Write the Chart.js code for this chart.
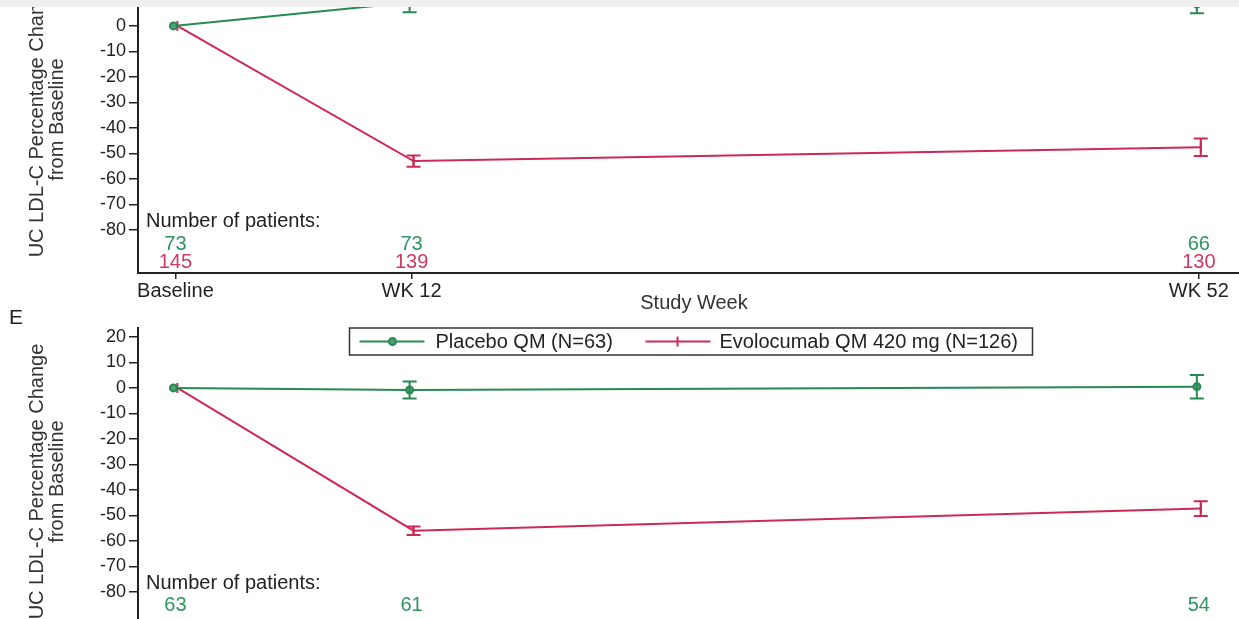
<!DOCTYPE html>
<html lang="en">
<head>
<meta charset="UTF-8">
<title>UC LDL-C Percentage Change from Baseline</title>
<script src="https://cdn.jsdelivr.net/npm/chart.js"></script>
<style>
  html, body { margin: 0; padding: 0; background: #fff; }
  body {
    width: 1239px;
    height: 619px;
    overflow: hidden;
    position: relative;
    font-family: 'Liberation Sans', Arial, sans-serif;
  }
  .strip {
    position: absolute; left: 0; top: 0;
    width: 1239px; height: 7px;
    background: #efefef;
    z-index: 5;
  }
  canvas { position: absolute; left: 0; }
  #chartD { top: -60px; }
  #chartE { top: 300px; }
  .panel-tag {
    position: absolute; left: 9px; top: 305px;
    font-size: 21px; color: #222;
  }
</style>
</head>
<body>
<div class="strip"></div>
<canvas id="chartD" width="1260" height="375"></canvas>
<div class="panel-tag">E</div>
<canvas id="chartE" width="1260" height="377"></canvas>

<script>
// study weeks and their tick labels
const weeks = [0, 12, 52];
const weekLabels = ['Baseline', 'WK 12', 'WK 52'];
const yTicks = [20, 10, 0, -10, -20, -30, -40, -50, -60, -70, -80];

// upper panel (cut off at the top)
const placeboD = [0, 9.2, 8.6];
const placeboErrD = [0, 3.8, 3.6];
const evoD = [0, -53.0, -47.6];
const evoErrD = [0, 2.2, 3.4];
const nPlaceboD = [73, 73, 66];
const nEvoD = [145, 139, 130];

// panel E
const placeboE = [0, -0.8, 0.5];
const placeboErrE = [0, 3.3, 4.6];
const evoE = [0, -56.0, -47.3];
const evoErrE = [0, 1.7, 2.9];
const nPlaceboE = [63, 61, 54];

const legendLabels = ['Placebo QM (N=63)', 'Evolocumab QM 420 mg (N=126)'];

const GREEN = '#278a52';
const RED = '#cc2a55';
const AXIS = '#222';
const FONT = "'Liberation Sans', Arial, sans-serif";

function toPoints(vals, dodge) {
  return vals.map((v, i) => ({ x: weeks[i] + dodge, y: v }));
}

// draws mean +/- error whiskers using the chart scales
const errorBars = {
  id: 'errorBars',
  afterDatasetsDraw(chart) {
    const ctx = chart.ctx;
    const xs = chart.scales.x, ys = chart.scales.y;
    const area = chart.chartArea;
    ctx.save();
    ctx.beginPath();
    ctx.rect(area.left, area.top, area.right - area.left, area.bottom - area.top);
    ctx.clip();
    chart.data.datasets.forEach(ds => {
      if (!ds.errors) return;
      ctx.strokeStyle = ds.borderColor;
      ctx.lineWidth = 2;
      ds.data.forEach((p, i) => {
        const e = ds.errors[i];
        if (!e) return;
        const px = xs.getPixelForValue(p.x);
        const y1 = ys.getPixelForValue(p.y + e);
        const y2 = ys.getPixelForValue(p.y - e);
        ctx.beginPath();
        ctx.moveTo(px, y1); ctx.lineTo(px, y2);
        ctx.moveTo(px - 7, y1); ctx.lineTo(px + 7, y1);
        ctx.moveTo(px - 7, y2); ctx.lineTo(px + 7, y2);
        ctx.stroke();
      });
    });
    ctx.restore();
  }
};

// "Number of patients" rows under the curves
const patientRows = {
  id: 'patientRows',
  afterDraw(chart, args, opts) {
    const ctx = chart.ctx;
    const xs = chart.scales.x, ys = chart.scales.y;
    ctx.save();
    ctx.font = '20px ' + FONT;
    ctx.textBaseline = 'middle';
    ctx.fillStyle = '#222';
    ctx.textAlign = 'left';
    ctx.fillText('Number of patients:', chart.chartArea.left + 8, ys.getPixelForValue(-76.7));
    ctx.textAlign = 'center';
    opts.rows.forEach(row => {
      ctx.fillStyle = row.color;
      row.counts.forEach((n, i) => {
        ctx.fillText(String(n), xs.getPixelForValue(weeks[i]), ys.getPixelForValue(row.at));
      });
    });
    ctx.restore();
  }
};

// boxed legend at the top of panel E
const boxLegend = {
  id: 'boxLegend',
  afterDraw(chart, args, opts) {
    if (!opts.show) return;
    const ctx = chart.ctx;
    const area = chart.chartArea;
    const cx = (area.left + area.right) / 2 - 3;
    const left = cx - 341.5, top = area.top, w = 683, h = 27;
    const mid = top + h / 2;
    ctx.save();
    ctx.fillStyle = '#fff';
    ctx.fillRect(left, top, w, h);
    ctx.strokeStyle = '#333';
    ctx.lineWidth = 1.5;
    ctx.strokeRect(left, top, w, h);

    // placebo sample
    ctx.strokeStyle = GREEN; ctx.lineWidth = 2;
    ctx.beginPath(); ctx.moveTo(left + 10, mid); ctx.lineTo(left + 75, mid); ctx.stroke();
    ctx.fillStyle = '#4f9f71';
    ctx.beginPath(); ctx.arc(left + 43, mid, 3.5, 0, Math.PI * 2); ctx.fill(); ctx.stroke();
    // evolocumab sample
    ctx.strokeStyle = RED;
    ctx.beginPath(); ctx.moveTo(left + 296, mid); ctx.lineTo(left + 361, mid); ctx.stroke();
    ctx.beginPath(); ctx.moveTo(left + 328, mid - 5); ctx.lineTo(left + 328, mid + 5); ctx.stroke();

    ctx.fillStyle = '#222';
    ctx.font = '20px ' + FONT;
    ctx.textBaseline = 'middle';
    ctx.textAlign = 'left';
    ctx.fillText(legendLabels[0], left + 86, mid + 1);
    ctx.fillText(legendLabels[1], left + 370, mid + 1);
    ctx.restore();
  }
};

function makePanel(canvasId, placebo, placeboErr, evo, evoErr, rows, padTop, showLegend) {
  const ctx = document.getElementById(canvasId).getContext('2d');
  return new Chart(ctx, {
    type: 'line',
    data: {
      datasets: [
        {
          label: legendLabels[0],
          data: toPoints(placebo, -0.1),
          errors: placeboErr,
          borderColor: GREEN,
          backgroundColor: '#4f9f71',
          borderWidth: 2,
          pointStyle: 'circle',
          pointRadius: 3.5,
          pointBorderWidth: 2,
          tension: 0
        },
        {
          label: legendLabels[1],
          data: toPoints(evo, 0.1),
          errors: evoErr,
          borderColor: RED,
          backgroundColor: RED,
          borderWidth: 2,
          pointStyle: 'line',
          pointRotation: 90,
          pointRadius: 5,
          pointBorderWidth: 2,
          tension: 0
        }
      ]
    },
    options: {
      responsive: false,
      animation: false,
      layout: { padding: { top: padTop, right: 10, left: 0, bottom: 0 } },
      plugins: {
        legend: { display: false },
        tooltip: { enabled: false },
        patientRows: { rows: rows },
        boxLegend: { show: showLegend }
      },
      scales: {
        x: {
          type: 'linear',
          min: -1.9,
          max: 54.6,
          afterBuildTicks: s => { s.ticks = weeks.map(v => ({ value: v })); },
          afterFit: s => { s.height = 42; },
          ticks: {
            color: AXIS,
            font: { family: FONT, size: 20 },
            padding: 0,
            maxRotation: 0,
            autoSkip: false,
            callback: v => weekLabels[weeks.indexOf(v)]
          },
          grid: { drawOnChartArea: false, drawTicks: true, tickLength: 6, color: AXIS, lineWidth: 1.5 },
          border: { display: true, color: AXIS, width: 2 },
          title: {
            display: true, text: 'Study Week', color: '#333',
            font: { family: FONT, size: 20, lineHeight: 1.2 },
            padding: { top: 0, bottom: 0 }
          }
        },
        y: {
          min: -96.9,
          max: 23.5,
          afterBuildTicks: s => { s.ticks = yTicks.map(v => ({ value: v })); },
          afterFit: s => { s.width = 138; },
          ticks: {
            color: AXIS,
            font: { family: FONT, size: 18 },
            padding: 3
          },
          grid: { drawOnChartArea: false, drawTicks: true, tickLength: 9, color: AXIS, lineWidth: 1.5 },
          border: { display: true, color: AXIS, width: 2 },
          title: {
            display: true,
            text: ['UC LDL-C Percentage Change', 'from Baseline'],
            color: '#333',
            font: { family: FONT, size: 20, lineHeight: 1.0 },
            padding: { top: 27, bottom: 0 }
          }
        }
      }
    },
    plugins: [errorBars, patientRows, boxLegend]
  });
}

makePanel('chartD', placeboD, placeboErrD, evoD, evoErrD, [
  { counts: nPlaceboD, color: '#2f9460', at: -85.6 },
  { counts: nEvoD, color: '#cf3a60', at: -92.8 }
], 26, false);

makePanel('chartE', placeboE, placeboErrE, evoE, evoErrE, [
  { counts: nPlaceboE, color: '#2f9460', at: -85.4 }
], 28, true);
</script>
</body>
</html>
